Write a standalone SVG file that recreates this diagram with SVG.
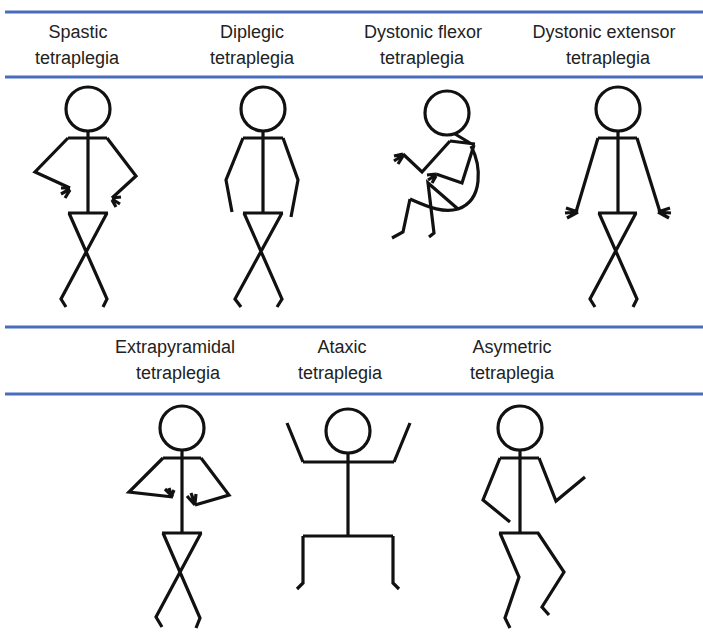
<svg xmlns="http://www.w3.org/2000/svg" width="703" height="637" viewBox="0 0 703 637">
  <style>
    .rule { stroke: #4a6cbd; stroke-width: 3; }
    .label { font-family: "Liberation Sans", Arial, sans-serif; font-size: 18px; fill: #222; text-anchor: middle; }
    .fig { fill: none; stroke: #111; stroke-width: 3.2; stroke-linejoin: miter; stroke-linecap: butt; }
  </style>
  <rect width="703" height="637" fill="#fff"/>

  <!-- table rules -->
  <g id="rules">
    <line class="rule" x1="5" y1="12" x2="703" y2="12"/>
    <line class="rule" x1="5" y1="77" x2="703" y2="77"/>
    <line class="rule" x1="5" y1="327" x2="703" y2="327"/>
    <line class="rule" x1="5" y1="394" x2="703" y2="394"/>
  </g>

  <!-- row 1 headings -->
  <g id="labels">
    <text class="label" x="78" y="38">Spastic</text>
    <text class="label" x="77" y="64">tetraplegia</text>
    <text class="label" x="252" y="38">Diplegic</text>
    <text class="label" x="252" y="64">tetraplegia</text>
    <text class="label" x="423" y="38">Dystonic flexor</text>
    <text class="label" x="422" y="64">tetraplegia</text>
    <text class="label" x="604" y="38">Dystonic extensor</text>
    <text class="label" x="608" y="64">tetraplegia</text>
    <text class="label" x="175" y="353">Extrapyramidal</text>
    <text class="label" x="178" y="379">tetraplegia</text>
    <text class="label" x="342" y="353">Ataxic</text>
    <text class="label" x="340" y="379">tetraplegia</text>
    <text class="label" x="512" y="353">Asymetric</text>
    <text class="label" x="512" y="379">tetraplegia</text>
  </g>

  <!-- Spastic -->
  <g id="spastic" class="fig">
    <circle cx="88" cy="109" r="22"/>
    <path d="M88 131 V213 M68 138 H107 M68 138 L35 172 L70 188 M107 138 L136 176 L112 198"/>
    <path d="M70 188 L61 188 M70 189 L61 194 M70 190 L65 198"/>
    <path d="M112 198 L121 197 M112 199 L120 204 M112 200 L116 207"/>
    <path d="M68 213 H108 M69 213 L107 299 L103 307 M107 213 L61 299 L66 307"/>
  </g>

  <!-- Diplegic -->
  <g id="diplegic" class="fig">
    <circle cx="263" cy="109" r="22"/>
    <path d="M263 131 V213 M243 138 H283 M243 138 L226 180 L232 212 M283 138 L298 180 L291 217"/>
    <path d="M243 213 H283 M244 213 L282 299 L277 307 M282 213 L235 299 L241 307"/>
  </g>

  <!-- Dystonic flexor -->
  <g id="dystonic-flexor" class="fig">
    <circle cx="447" cy="113" r="22"/>
    <path d="M455 134 L470 143 M450 141 L475 144"/>
    <path d="M450 141 L422 172 L403 154 M474 145 L462 183 L436 174"/>
    <path d="M403 154 L394 156 M403 155 L394 161 M403 156 L398 164"/>
    <path d="M436 174 L427 175 M436 175 L428 180 M436 176 L432 183"/>
    <path d="M471 146 C481 165 484 200 458 209 C444 213 430 208 410 199"/>
    <path d="M458 209 L428 183 L434 233 L429 237 M410 199 L403 232 L392 238"/>
  </g>

  <!-- Dystonic extensor -->
  <g id="dystonic-extensor" class="fig">
    <circle cx="618" cy="109" r="22"/>
    <path d="M618 131 V213 M598 138 H637 M598 138 L576 212 M637 138 L660 212"/>
    <path d="M578 212 L566 208 M578 212 L565 213 M578 212 L567 218"/>
    <path d="M658 212 L670 208 M658 212 L671 213 M658 212 L669 218"/>
    <path d="M598 213 H637 M599 213 L637 299 L633 307 M636 213 L590 299 L595 307"/>
  </g>

  <!-- Extrapyramidal -->
  <g id="extrapyramidal" class="fig">
    <circle cx="182" cy="428" r="22"/>
    <path d="M182 450 V533 M163 458 H201 M163 458 L129 492 L173 497 M201 458 L229 495 L195 505"/>
    <path d="M173 497 L165 489 M172 497 L169 488 M171 497 L174 490"/>
    <path d="M195 505 L187 496 M195 504 L191 493 M195 503 L196 494"/>
    <path d="M162 533 H202 M163 533 L200 618 L196 628 M201 533 L156 617 L162 627"/>
  </g>

  <!-- Ataxic -->
  <g id="ataxic" class="fig">
    <circle cx="348" cy="431" r="22"/>
    <path d="M348 453 V536 M303 462 H394 M303 462 L287 423 M394 462 L410 423"/>
    <path d="M303 536 H393 M303 536 V583 L297 589 M393 536 V583 L399 589"/>
  </g>

  <!-- Asymetric -->
  <g id="asymetric" class="fig">
    <circle cx="520" cy="428" r="22"/>
    <path d="M520 450 V533 M500 458 H539 M500 458 L483 500 L510 522 M539 458 L556 501 L585 477"/>
    <path d="M499 533 H539 M500 533 L519 577 L505 618 L510 628 M538 533 L564 572 L542 607 L549 615"/>
  </g>
</svg>
